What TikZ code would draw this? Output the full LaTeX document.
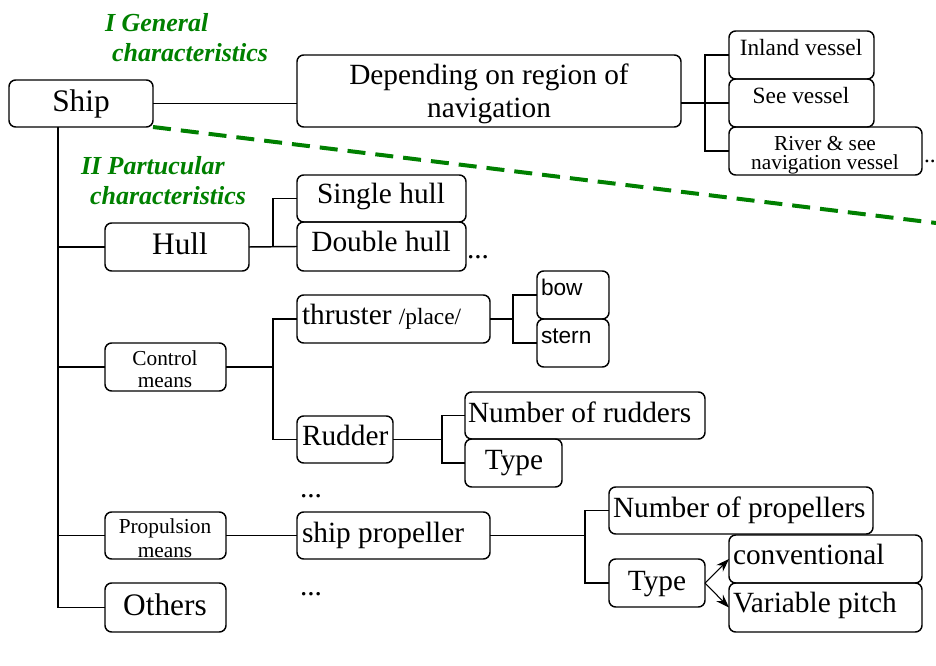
\documentclass[tikz,border=0pt]{standalone}
\usepackage{fontspec}
\setmainfont{Liberation Serif}
\newfontfamily\tnr{Liberation Serif}
\newfontfamily\sansf{Liberation Sans}
\usetikzlibrary{fit,arrows.meta}
\definecolor{gr}{RGB}{0,128,0}
\newcommand\fbig{\tnr\fontsize{23.5}{28}\selectfont}
\newcommand\fmain{\tnr\fontsize{22}{26}\selectfont}
\newcommand\fmid{\tnr\fontsize{17.5}{21}\selectfont}
\newcommand\fsm{\tnr\fontsize{16}{19}\selectfont}
\newcommand\fgr{\tnr\fontsize{19.5}{23}\selectfont\bfseries\itshape}
\newcommand\fsans{\sansf\fontsize{17}{20}\selectfont}
\begin{document}
\begin{tikzpicture}[x=0.75pt,y=-0.75pt,
  box/.style={draw,line width=1.1pt,rounded corners=5pt,inner sep=0pt,outer sep=0pt},
  txt/.style={inner sep=0pt,outer sep=0pt},
  con/.style={line width=1.1pt},
  arr/.style={line width=0.8pt,-{Stealth[length=10pt,width=7pt]}},
  grline/.style={draw=gr,line width=3pt,dash pattern=on 13.5pt off 7.5pt},
  grtxt/.style={txt,text=gr,font=\fgr,anchor=base west}]
\clip (0,0) rectangle (936,666);
% boxes
\node[box,fit={(9,80) (153,127)}] (ship) {};
\node[box,fit={(297,55) (681,127)}] (dep) {};
\node[box,fit={(729,31) (874,79)}] (inl) {};
\node[box,fit={(729,79) (874,127)}] (see) {};
\node[box,fit={(729,127) (922,175)}] (riv) {};
\node[box,fit={(105,223) (249,271)}] (hull) {};
\node[box,fit={(297,175) (466,222)}] (shull) {};
\node[box,fit={(297,222) (466,271)}] (dhull) {};
\node[box,fit={(105,343) (226,391)}] (ctrl) {};
\node[box,fit={(297,295) (490,343)}] (thr) {};
\node[box,fit={(537,271) (609,319)}] (bow) {};
\node[box,fit={(537,319) (609,367)}] (stern) {};
\node[box,fit={(297,416) (393,463)}] (rud) {};
\node[box,fit={(465,392) (705,439)}] (nrud) {};
\node[box,fit={(465,439) (562,487)}] (trud) {};
\node[box,fit={(105,512) (226,559)}] (prop) {};
\node[box,fit={(297,512) (490,559)}] (sprop) {};
\node[box,fit={(105,583) (226,632)}] (others) {};
\node[box,fit={(609,487) (873,534)}] (nprop) {};
\node[box,fit={(609,559) (705,607)}] (tprop) {};
\node[box,fit={(729,535) (922,583)}] (conv) {};
\node[box,fit={(729,583) (922,632)}] (varp) {};
% texts
\node[txt,font=\fbig,anchor=base] (shipT) at (81,112) {Ship};
\node[txt,font=\fmain,anchor=base] (depT1) at (489,85) {Depending on region of};
\node[txt,font=\fmain,anchor=base] (depT2) at (489,118) {navigation};
\node[txt,font=\fmid,anchor=base] (inlT) at (801,56) {Inland vessel};
\node[txt,font=\fmid,anchor=base] (seeT) at (801,104) {See vessel};
\node[txt,font=\fsm,anchor=base] (rivT1) at (825,151) {River \& see};
\begin{scope}
\clip (riv.south west) rectangle (riv.north east);
\node[txt,font=\fsm,anchor=base] (rivT2) at (825,170) {navigation vessel};
\end{scope}
\node[txt,font=\fmid,anchor=base west] (rivD) at (924,163) {...};
\node[grtxt] (g1a) at (105,32) {I General};
\node[grtxt] (g1b) at (112,62) {characteristics};
\node[grtxt] (g2a) at (81,175) {II Partucular};
\node[grtxt] (g2b) at (90,205) {characteristics};
\node[txt,font=\fbig,anchor=base] (hullT) at (180,255) {Hull};
\node[txt,font=\fmain,anchor=base] (shullT) at (381,204) {Single hull};
\node[txt,font=\fmain,anchor=base] (dhullT) at (381,252) {Double hull};
\node[txt,font=\fmain,anchor=base west] (hullD) at (467,259) {...};
\node[txt,font=\fmain,anchor=base west] (thrT) at (302,325) {thruster {\fmid /place/}};
\node[txt,font=\fsans,anchor=base west] (bowT) at (541,296) {bow};
\node[txt,font=\fsans,anchor=base west] (sternT) at (541,344) {stern};
\node[txt,font=\fsm,anchor=base] (ctrlT1) at (165,366) {Control};
\begin{scope}
\clip (ctrl.south west) rectangle (ctrl.north east);
\node[txt,font=\fsm,anchor=base] (ctrlT2) at (165,388) {means};
\end{scope}
\node[txt,font=\fmain,anchor=base west] (rudT) at (302,446) {Rudder};
\node[txt,font=\fmain,anchor=base west] (nrudT) at (468,423) {Number of rudders};
\node[txt,font=\fmain,anchor=base] (trudT) at (514,470) {Type};
\node[txt,font=\fmain,anchor=base west] (ctrlD) at (300,498) {...};
\node[txt,font=\fsm,anchor=base] (propT1) at (165,534) {Propulsion};
\begin{scope}
\clip (prop.south west) rectangle (prop.north east);
\node[txt,font=\fsm,anchor=base] (propT2) at (165,557) {means};
\end{scope}
\node[txt,font=\fmain,anchor=base west] (spropT) at (302,542) {ship propeller};
\node[txt,font=\fmain,anchor=base west] (propD) at (300,595) {...};
\node[txt,font=\fbig,anchor=base] (othersT) at (165,615) {Others};
\node[txt,font=\fmain,anchor=base west] (npropT) at (613,518) {Number of propellers};
\node[txt,font=\fmain,anchor=base] (tpropT) at (657,590) {Type};
\node[txt,font=\fmain,anchor=base west] (convT) at (733,565) {conventional};
\node[txt,font=\fmain,anchor=base west] (varpT) at (733,613) {Variable pitch};
\node[txt,font=\fbig\bfseries,anchor=base west] (botD) at (752,671) {...};
% connectors
\coordinate (db) at (705,103);
\coordinate (tt) at (58,127);
\coordinate (hb) at (273,247);
\coordinate (cb) at (273,367);
\coordinate (tb) at (513,319);
\coordinate (rb) at (442,439.5);
\coordinate (pb) at (585,535.5);
\coordinate (gend) at (940,223.5);
\draw[con] (ship.east) -- (ship.east -| dep.west);
\draw[con] (see.west -| dep.east) -- (see.west);
\draw[con] (inl.west) -| (db) |- (riv.west);
\draw[con] (tt) |- (others.west);
\draw[con] (tt |- hull.west) -- (hull.west);
\draw[con] (tt |- ctrl.west) -- (ctrl.west);
\draw[con] (tt |- prop.west) -- (prop.west);
\draw[con] (hull.east) -- (dhull.west);
\draw[con] (shull.west) -| (hb);
\draw[con] (ctrl.east) -- (cb);
\draw[con] (thr.west) -| (cb) |- (rud.west);
\draw[con] (thr.east) -- (tb);
\draw[con] (bow.west) -| (tb) |- (stern.west);
\draw[con] (rud.east) -- (rb);
\draw[con] (nrud.west) -| (rb) |- (trud.west);
\draw[con] (prop.east) -- (sprop.west);
\draw[con] (sprop.east) -- (pb);
\draw[con] (nprop.west) -| (pb) |- (tprop.west);
\draw[arr] (tprop.east) -- (conv.west);
\draw[arr] (tprop.east) -- (varp.west);
\draw[grline] (ship.south east) -- (gend);
\end{tikzpicture}
\end{document}
